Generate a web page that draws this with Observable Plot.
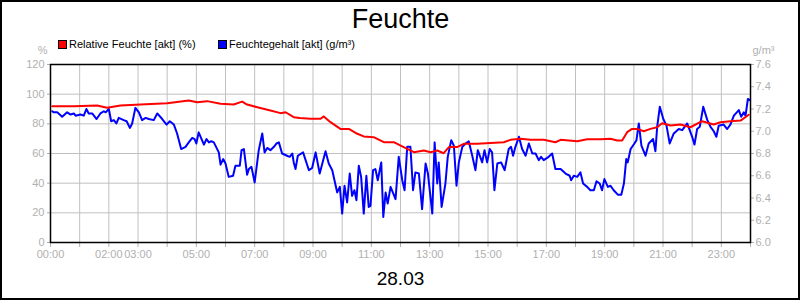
<!DOCTYPE html>
<html><head><meta charset="utf-8">
<script src="https://cdn.jsdelivr.net/npm/d3@7"></script>
<script src="https://cdn.jsdelivr.net/npm/@observablehq/plot@0.6"></script>
<style>
body{margin:0;background:#fff;}
#wrap{position:relative;width:800px;height:300px;overflow:hidden;font-family:"Liberation Sans",Arial,sans-serif;background:#fff;}
#border{position:absolute;left:0;top:0;width:800px;height:300px;box-sizing:border-box;border:2px solid #000;pointer-events:none;}
.lg{position:absolute;font-size:11px;line-height:11px;color:#000;white-space:nowrap;}
.sw{position:absolute;width:7px;height:7px;border:1px solid #000;}
</style></head><body>
<div id="wrap"><div id="chart"></div><div id="border"></div></div>
<script>
const title = "Feuchte";
const dateLabel = "28.03";
const seriesNames = ["Relative Feuchte [akt] (%)", "Feuchtegehalt [akt] (g/m³)"];
const seriesColors = ["#ff0000", "#0000ff"];
const leftUnit = "%";
const rightUnit = "g/m³";
const leftTicks = [0, 20, 40, 60, 80, 100, 120];
const rightTicks = [6.0, 6.2, 6.4, 6.6, 6.8, 7.0, 7.2, 7.4, 7.6];
const hourTicks = d3.range(0, 25);
const labelHours = [0, 2, 3, 5, 7, 9, 11, 13, 15, 17, 19, 21, 23];

// [hour of day, relative humidity %]
const relFeuchte = [[0.06,91.9],[0.80,91.9],[1.60,92.4],[1.94,90.8],[2.40,92.4],[3.09,93],[4.00,93.9],[4.74,95.7],[5.03,94.6],[5.37,95.3],[5.83,93.5],[6.28,93],[6.57,95],[6.74,93],[7.09,91.2],[7.54,89],[7.89,87.2],[8.06,87.8],[8.34,84.5],[8.55,84],[8.91,83.4],[9.26,83.4],[9.37,85],[9.60,81.1],[9.94,76.6],[10.23,76.6],[10.52,73.3],[10.74,71.5],[11.08,71],[11.43,67.6],[11.77,67.6],[12.11,64.3],[12.46,60.9],[12.80,62],[13.03,60.9],[13.26,62],[13.48,60.2],[13.66,64.3],[13.94,64.3],[14.17,66.5],[14.63,66.5],[15.09,67],[15.54,67.6],[15.77,69.2],[16.11,69.9],[16.46,69.2],[16.91,69.2],[17.31,67.6],[17.49,69.2],[18.06,68.3],[18.40,69.6],[18.86,69.6],[19.20,69.9],[19.43,68.8],[19.60,68.8],[19.77,74.4],[19.94,76.6],[20.11,76.6],[20.34,75],[20.57,76.6],[20.80,77.7],[20.97,80.4],[21.26,78.9],[21.60,79.6],[21.94,77.7],[22.34,81.8],[22.74,79.6],[22.97,81.1],[23.31,81.8],[23.66,82.2],[23.94,86.1]];

// [hour of day, moisture content g/m³]
const feuchtegehalt = [[0.06,7.18],[0.11,7.17],[0.23,7.17],[0.40,7.13],[0.57,7.17],[0.69,7.15],[0.80,7.16],[0.86,7.14],[1.03,7.15],[1.14,7.14],[1.23,7.20],[1.31,7.16],[1.43,7.16],[1.58,7.11],[1.71,7.16],[1.83,7.18],[1.89,7.17],[2.00,7.20],[2.08,7.09],[2.17,7.10],[2.26,7.07],[2.34,7.12],[2.51,7.10],[2.61,7.09],[2.72,7.03],[2.80,7.07],[2.91,7.21],[3.03,7.17],[3.14,7.10],[3.26,7.12],[3.37,7.11],[3.54,7.10],[3.66,7.16],[3.83,7.11],[3.98,7.06],[4.09,7.09],[4.23,7.06],[4.34,6.98],[4.48,6.84],[4.63,6.86],[4.74,6.90],[4.86,6.94],[4.94,6.93],[5.00,6.89],[5.08,6.99],[5.26,6.88],[5.35,6.93],[5.43,6.90],[5.51,6.91],[5.60,6.90],[5.77,6.81],[5.83,6.70],[5.92,6.75],[6.00,6.71],[6.11,6.59],[6.26,6.60],[6.34,6.69],[6.49,6.69],[6.55,6.83],[6.63,6.84],[6.74,6.61],[6.80,6.66],[6.89,6.68],[7.00,6.54],[7.14,6.83],[7.26,6.98],[7.34,6.81],[7.43,6.85],[7.54,6.83],[7.66,6.86],[7.75,6.89],[7.83,6.90],[7.94,6.80],[8.11,6.78],[8.20,6.77],[8.29,6.80],[8.34,6.72],[8.40,6.66],[8.48,6.78],[8.66,6.81],[8.86,6.65],[8.97,6.67],[9.09,6.81],[9.23,6.62],[9.43,6.82],[9.54,6.71],[9.66,6.65],[9.83,6.45],[9.92,6.50],[10.00,6.26],[10.08,6.51],[10.17,6.36],[10.26,6.62],[10.34,6.42],[10.42,6.47],[10.49,6.38],[10.57,6.69],[10.65,6.59],[10.74,6.26],[10.83,6.60],[10.91,6.32],[10.97,6.33],[11.06,6.65],[11.14,6.66],[11.22,6.56],[11.34,6.72],[11.41,6.23],[11.49,6.45],[11.56,6.35],[11.66,6.50],[11.83,6.39],[11.94,6.77],[12.06,6.56],[12.14,6.47],[12.23,6.86],[12.34,6.86],[12.43,6.47],[12.51,6.63],[12.63,6.62],[12.74,6.30],[12.86,6.71],[12.94,6.62],[13.09,6.26],[13.17,6.90],[13.26,6.53],[13.31,6.72],[13.41,6.32],[13.54,6.53],[13.62,6.77],[13.74,6.92],[13.83,6.87],[13.92,6.51],[14.00,6.72],[14.12,6.86],[14.23,6.89],[14.34,6.91],[14.46,6.78],[14.57,6.65],[14.65,6.83],[14.80,6.72],[14.88,6.83],[14.97,6.72],[15.06,6.84],[15.14,6.81],[15.22,6.47],[15.32,6.71],[15.45,6.72],[15.57,6.65],[15.71,6.84],[15.79,6.86],[15.86,6.78],[15.94,6.86],[16.06,6.95],[16.17,6.84],[16.29,6.78],[16.40,6.89],[16.52,6.80],[16.63,6.80],[16.74,6.74],[16.82,6.77],[16.91,6.74],[17.08,6.77],[17.20,6.80],[17.31,6.66],[17.49,6.66],[17.66,6.62],[17.80,6.60],[17.85,6.56],[17.94,6.60],[18.06,6.59],[18.17,6.63],[18.26,6.53],[18.40,6.50],[18.51,6.47],[18.63,6.47],[18.72,6.55],[18.83,6.53],[18.91,6.47],[18.99,6.57],[19.11,6.50],[19.20,6.51],[19.31,6.47],[19.45,6.43],[19.57,6.43],[19.66,6.53],[19.74,6.75],[19.79,6.72],[19.89,6.84],[20.02,6.89],[20.09,6.92],[20.17,7.07],[20.26,6.87],[20.40,6.78],[20.51,6.89],[20.66,6.93],[20.74,6.82],[20.80,7.04],[20.89,7.22],[21.01,7.11],[21.12,7.05],[21.23,6.89],[21.37,6.98],[21.54,7.02],[21.66,7.01],[21.83,7.07],[22.00,6.95],[22.08,6.88],[22.17,7.02],[22.26,7.04],[22.38,7.22],[22.52,7.10],[22.63,7.04],[22.74,7.00],[22.83,6.95],[22.91,7.05],[23.08,7.06],[23.20,7.02],[23.31,7.06],[23.43,7.14],[23.60,7.19],[23.68,7.13],[23.77,7.17],[23.83,7.14],[23.91,7.29],[23.98,7.28]];

// right axis (6.0–7.6 g/m³) shares the left axis range (0–120 %)
const toLeft = g => (g - rightTicks[0]) * (leftTicks[leftTicks.length-1] / (rightTicks[rightTicks.length-1] - rightTicks[0]));
const fromLeft = v => rightTicks[0] + v * (rightTicks[rightTicks.length-1] - rightTicks[0]) / leftTicks[leftTicks.length-1];
const gray = "#b0b0b0";
const hh = h => String(h).padStart(2, "0") + ":00";

const chart = Plot.plot({
  width: 800, height: 300,
  marginLeft: 50, marginRight: 50, marginTop: 64, marginBottom: 58,
  style: {fontFamily: '"Liberation Sans", Arial, sans-serif', fontSize: "11px", background: "transparent", overflow: "visible"},
  x: {domain: [0, 24]},
  y: {domain: [0, 120]},
  marks: [
    Plot.gridX({ticks: d3.range(1, 24), stroke: "#c0c0c0", strokeOpacity: 1, strokeWidth: 1}),
    Plot.gridY({ticks: leftTicks.slice(1, -1), stroke: "#c0c0c0", strokeOpacity: 1, strokeWidth: 1}),
    Plot.axisY({ticks: leftTicks, tickSize: 3, tickPadding: 3, label: null, color: gray}),
    Plot.axisY({anchor: "right", ticks: rightTicks.map(toLeft), tickFormat: v => fromLeft(v).toFixed(1), tickSize: 3, tickPadding: 2, label: null, color: gray}),
    Plot.axisX({ticks: hourTicks, tickSize: 5, tickFormat: () => "", label: null, color: gray}),
    Plot.axisX({ticks: labelHours, tickSize: 0, tickPadding: 8, tickFormat: hh, label: null, color: gray}),
    Plot.line(feuchtegehalt, {x: d => d[0], y: d => toLeft(d[1]), stroke: seriesColors[1], strokeWidth: 2}),
    Plot.line(relFeuchte, {x: d => d[0], y: d => d[1], stroke: seriesColors[0], strokeWidth: 2}),
    Plot.frame({stroke: "#000", strokeWidth: 1.5}),
    Plot.text([title], {text: d => d, frameAnchor: "top", dy: -37, lineAnchor: "bottom", fontSize: 27, fill: "#000"}),
    Plot.text([dateLabel], {text: d => d, frameAnchor: "bottom", dy: 42, lineAnchor: "bottom", fontSize: 19, fill: "#000"}),
    Plot.text([leftUnit], {text: d => d, frameAnchor: "top-left", textAnchor: "end", dx: -3, dy: -11, lineAnchor: "bottom", fontSize: 11, fill: gray}),
    Plot.text([rightUnit], {text: d => d, frameAnchor: "top-right", textAnchor: "start", dx: 2, dy: -11, lineAnchor: "bottom", fontSize: 11, fill: gray})
  ]
});
document.getElementById("chart").appendChild(chart);

// legend
const wrap = document.getElementById("wrap");
const legendX = [58, 218];
seriesNames.forEach((name, i) => {
  const sw = document.createElement("div");
  sw.className = "sw";
  sw.style.left = legendX[i] + "px";
  sw.style.top = "40px";
  sw.style.background = seriesColors[i];
  wrap.appendChild(sw);
  const t = document.createElement("div");
  t.className = "lg";
  t.style.left = (legendX[i] + 11) + "px";
  t.style.top = "39px";
  t.textContent = name;
  wrap.appendChild(t);
});
</script>
</body></html>
